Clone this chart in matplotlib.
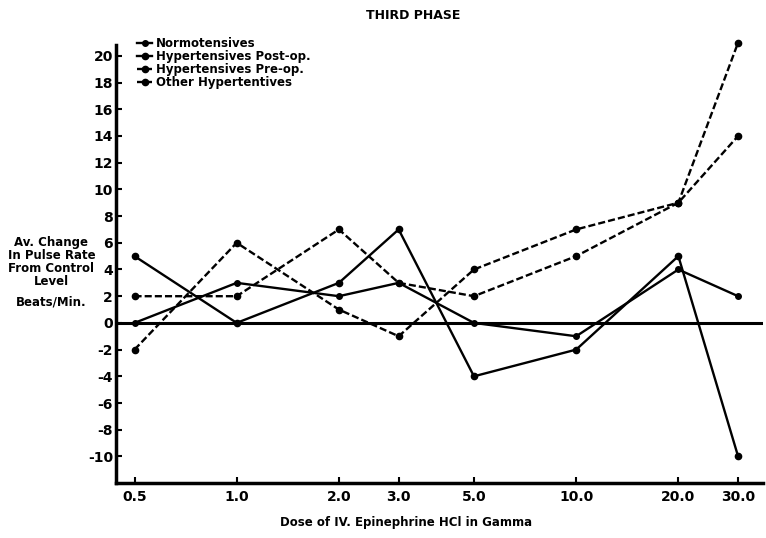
import matplotlib
matplotlib.use("Agg")
from matplotlib import pyplot as plt

plt.rcParams["font.family"] = ["DejaVu Sans"]
plt.rcParams["axes.unicode_minus"] = False

doses = [0.5, 1.0, 2.0, 3.0, 5.0, 10.0, 20.0, 30.0]
dose_labels = ["0.5", "1.0", "2.0", "3.0", "5.0", "10.0", "20.0", "30.0"]

normotensives = [0, 3, 2, 3, 0, -1, 4, 2]
hyper_post_op = [5, 0, 3, 7, -4, -2, 5, -10]
hyper_pre_op = [-2, 6, 1, -1, 4, 7, 9, 21]
other_hyper = [2, 2, 7, 3, 2, 5, 9, 14]

y_ticks = list(range(-10, 21, 2))

fig = plt.figure(figsize=(7.66, 5.38), dpi=100)
ax = fig.add_axes([0.151, 0.102, 0.845, 0.814])

lw = 1.7
dash = (0, (3, 1.3))
ax.plot(doses, normotensives, color="black", lw=lw, marker="o", ms=4,
        label="Normotensives", clip_on=False)
ax.plot(doses, hyper_post_op, color="black", lw=lw, marker="o", ms=4.5,
        label="Hypertensives Post-op.", clip_on=False)
ax.plot(doses, hyper_pre_op, color="black", lw=lw, ls=dash,
        marker="o", ms=4.5, label="Hypertensives Pre-op.", clip_on=False)
ax.plot(doses, other_hyper, color="black", lw=lw, ls=dash,
        marker="o", ms=4.5, label="Other Hypertentives", clip_on=False)

ax.axhline(0, color="black", lw=2.2)

ax.set_xscale("log")
ax.set_xlim(0.44, 35.5)
ax.set_ylim(-12, 20.8)
ax.set_xticks(doses)
ax.set_xticklabels(dose_labels)
ax.minorticks_off()
ax.set_yticks(y_ticks)
ax.set_yticklabels([str(v) for v in y_ticks])

for side in ["top", "right"]:
    ax.spines[side].set_visible(False)
for side in ["left", "bottom"]:
    ax.spines[side].set_linewidth(2.5)

ax.tick_params(axis="both", direction="in", length=4, width=1.5,
               labelsize=10)
ax.tick_params(axis="y", pad=2)
ax.tick_params(axis="x", pad=5)
for lab in ax.get_xticklabels() + ax.get_yticklabels():
    lab.set_fontweight("bold")

leg = ax.legend(loc="upper left", bbox_to_anchor=(0.022, 1.035), frameon=False,
                handlelength=1.3, handletextpad=0.3, labelspacing=0.0,
                prop={"size": 8.5, "weight": "bold"}, borderaxespad=0.2)

fig.text(0.54, 0.972, "THIRD PHASE", ha="center", va="center",
         fontsize=9, fontweight="bold")
fig.text(0.067, 0.513, "Av. Change\nIn Pulse Rate\nFrom Control\nLevel",
         ha="center", va="center", fontsize=8.5, fontweight="bold",
         linespacing=1.0)
fig.text(0.067, 0.439, "Beats/Min.", ha="center", va="center",
         fontsize=8.5, fontweight="bold")
fig.text(0.53, 0.028, "Dose of IV. Epinephrine HCl in Gamma",
         ha="center", va="center", fontsize=8.5, fontweight="bold")

fig.savefig("out.png", dpi=100)
